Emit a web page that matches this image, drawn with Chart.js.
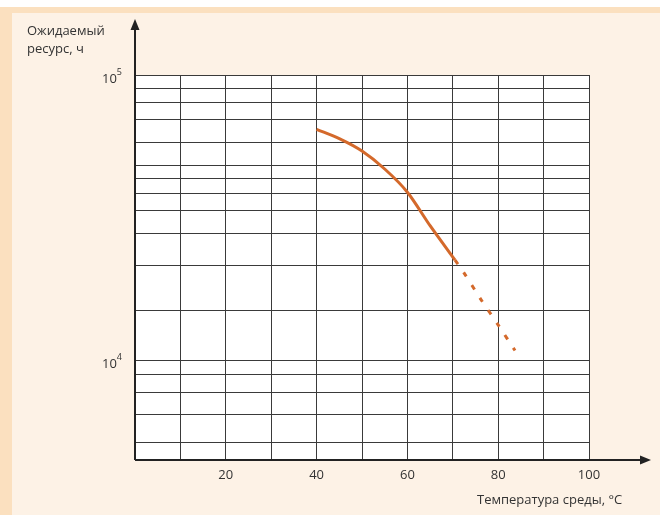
<!DOCTYPE html>
<html>
<head>
<meta charset="utf-8">
<script src="https://cdn.jsdelivr.net/npm/chart.js@4/dist/chart.umd.min.js"></script>
<style>
  html, body { margin: 0; padding: 0; background: #fff; }
  #wrap { position: relative; width: 660px; height: 515px; font-family: "Open Sans", "Noto Sans", sans-serif; color: #333; }
  canvas { position: absolute; left: 0; top: 0; }
  .ttl { position: absolute; font-size: 13px; line-height: 18px; white-space: nowrap; }
</style>
</head>
<body>
<div id="wrap">
  <canvas id="lifeChart" width="660" height="515"></canvas>
  <div class="ttl" style="left:27px; top:21px;">Ожидаемый<br>ресурс, ч</div>
  <div class="ttl" style="left:477px; top:490px;">Температура среды, °C</div>
</div>
<script>
// curve: solid part and dashed extrapolation
const tempSolid = [40, 45, 50, 55, 60, 65, 70.5];
const lifeSolid = [64500, 59800, 54100, 46800, 38800, 29600, 22400];
const tempDashed = [70.5, 72.3, 76.1, 80.1, 83.7];
const lifeDashed = [22400, 20400, 16400, 13200, 10800];

// horizontal grid lines of the log axis (as drawn in the original)
const yGrid = [4460, 5140, 6430, 7700, 8930, 10000, 14900, 21500, 27800, 33400,
               38500, 43200, 48300, 57900, 69900, 80400, 90000, 100000];
const yLabelled = [10000, 100000];
const xLabelled = [20, 40, 60, 80, 100];

const curveColor = '#d4692b';
const gridColor = '#3a3a3a';

const decor = {
    id: 'decor',
    beforeDraw(chart) {
        const { ctx, chartArea: a } = chart;
        ctx.save();
        ctx.fillStyle = '#ffffff';
        ctx.fillRect(0, 0, 660, 515);
        ctx.fillStyle = '#fdf2e6';
        ctx.fillRect(0, 7, 660, 508);
        ctx.fillStyle = '#fbe0bf';
        ctx.fillRect(0, 7, 660, 6);
        ctx.fillRect(0, 7, 12, 508);
        ctx.fillStyle = '#ffffff';
        ctx.fillRect(a.left, a.top, a.right - a.left, a.bottom - a.top);
        ctx.restore();
    },
    afterDraw(chart) {
        const { ctx, chartArea: a } = chart;
        const y = chart.scales.y;
        ctx.save();
        ctx.strokeStyle = '#222';
        ctx.fillStyle = '#222';
        ctx.lineWidth = 2;
        // y axis with arrow
        ctx.beginPath();
        ctx.moveTo(a.left, a.bottom);
        ctx.lineTo(a.left, 26);
        ctx.stroke();
        ctx.beginPath();
        ctx.moveTo(a.left, 19);
        ctx.lineTo(a.left - 4.5, 30);
        ctx.lineTo(a.left + 4.5, 30);
        ctx.closePath();
        ctx.fill();
        // x axis with arrow
        ctx.beginPath();
        ctx.moveTo(a.left, a.bottom);
        ctx.lineTo(643, a.bottom);
        ctx.stroke();
        ctx.beginPath();
        ctx.moveTo(651, a.bottom);
        ctx.lineTo(640, a.bottom - 4.5);
        ctx.lineTo(640, a.bottom + 4.5);
        ctx.closePath();
        ctx.fill();
        // powers of ten on the y axis
        ctx.fillStyle = '#333';
        ctx.textBaseline = 'middle';
        yLabelled.forEach(v => {
            const py = y.getPixelForValue(v) + 4;
            const exp = String(Math.round(Math.log10(v)));
            ctx.font = '9px "Open Sans", sans-serif';
            const ew = ctx.measureText(exp).width;
            ctx.textAlign = 'right';
            ctx.fillText(exp, 122, py - 7);
            ctx.font = '13px "Open Sans", sans-serif';
            ctx.fillText('10', 122 - ew, py);
        });
        ctx.restore();
    }
};

new Chart(document.getElementById('lifeChart'), {
    type: 'line',
    data: {
        datasets: [{
            data: tempSolid.map((t, i) => ({ x: t, y: lifeSolid[i] })),
            borderColor: curveColor,
            borderWidth: 3,
            pointRadius: 0,
            tension: 0.3,
        }, {
            data: tempDashed.map((t, i) => ({ x: t, y: lifeDashed[i] })),
            borderColor: curveColor,
            borderWidth: 3,
            borderDash: [5, 10],
            pointRadius: 0,
            tension: 0.3,
        }]
    },
    options: {
        responsive: false,
        animation: false,
        layout: { padding: { top: 75, right: 71, left: 0, bottom: 0 } },
        plugins: { legend: { display: false }, tooltip: { enabled: false } },
        scales: {
            x: {
                type: 'linear',
                min: 0,
                max: 100,
                border: { display: false },
                grid: { color: gridColor, lineWidth: 1, drawTicks: false },
                ticks: {
                    stepSize: 10,
                    padding: 7,
                    color: '#333',
                    font: { family: '"Open Sans", sans-serif', size: 13 },
                    maxRotation: 0,
                    autoSkip: false,
                    callback: v => xLabelled.includes(v) ? String(v) : '',
                },
                afterFit: s => { s.height = 55; },
            },
            y: {
                type: 'logarithmic',
                min: yGrid[0],
                max: yGrid[yGrid.length - 1],
                border: { display: false },
                grid: { color: gridColor, lineWidth: 1, drawTicks: false },
                ticks: { display: false },
                afterBuildTicks: s => { s.ticks = yGrid.map(v => ({ value: v })); },
                afterFit: s => { s.width = 135; },
            }
        }
    },
    plugins: [decor]
});
</script>
</body>
</html>
